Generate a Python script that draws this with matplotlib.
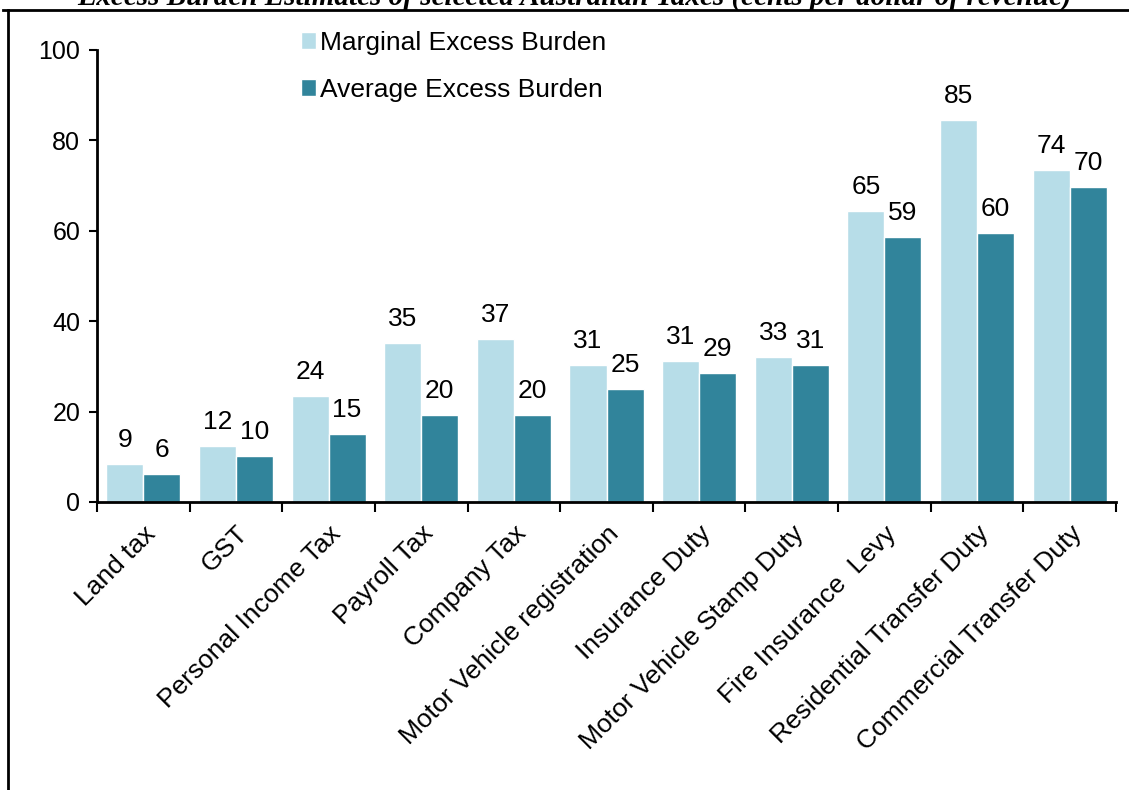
import matplotlib
matplotlib.use("Agg")
import matplotlib.pyplot as plt
from matplotlib.lines import Line2D
import numpy as np

plt.rcParams['font.family'] = ['Liberation Sans', 'DejaVu Sans']

categories = ["Land tax", "GST", "Personal Income Tax", "Payroll Tax", "Company Tax",
              "Motor Vehicle registration", "Insurance Duty", "Motor Vehicle Stamp Duty",
              "Fire Insurance  Levy", "Residential Transfer Duty", "Commercial Transfer Duty"]
marginal = [8.4, 12.4, 23.5, 35.2, 36.1, 30.3, 31.2, 32.1, 64.4, 84.5, 73.5]
average = [6.2, 10.2, 15.0, 19.3, 19.3, 25.0, 28.5, 30.3, 58.6, 59.5, 69.7]
marginal_labels = ["9", "12", "24", "35", "37", "31", "31", "33", "65", "85", "74"]
average_labels = ["6", "10", "15", "20", "20", "25", "29", "31", "59", "60", "70"]
yticks = [0, 20, 40, 60, 80, 100]

W, H = 1129, 790
fig = plt.figure(figsize=(W/100, H/100), dpi=100)
ax = fig.add_axes([97/W, 1-502/H, (1116-97)/W, (502-50)/H])

x = np.arange(len(categories))
bw = 0.4
c_light = "#b7dde8"
c_dark = "#31849b"
b1 = ax.bar(x - bw/2, marginal, bw, color=c_light, edgecolor="white", linewidth=1, label="Marginal Excess Burden")
b2 = ax.bar(x + bw/2, average, bw, color=c_dark, edgecolor="white", linewidth=1, label="Average Excess Burden")

for bars, labs in ((b1, marginal_labels), (b2, average_labels)):
    for r, lab in zip(bars, labs):
        ax.annotate(lab, (r.get_x() + r.get_width()/2, r.get_height()),
                    xytext=(0, 12), textcoords="offset pixels",
                    ha="center", va="bottom", fontsize=19)

ax.set_xlim(-0.5, len(categories) - 0.5)
ax.set_ylim(0, 100)
ax.set_yticks(yticks)
ax.set_yticklabels([str(v) for v in yticks], fontsize=18)
ax.set_xticks(x)
ax.set_xticklabels(categories, rotation=45, ha="right", rotation_mode="anchor", fontsize=19)
ax.tick_params(axis="x", which="major", length=0, pad=14)
ax.set_xticks(np.arange(-0.5, len(categories)), minor=True)
ax.tick_params(axis="x", which="minor", length=7, width=1.5, direction="out")
ax.tick_params(axis="y", length=6, width=1.5, direction="out", pad=6)

for s in ("top", "right"):
    ax.spines[s].set_visible(False)
for s in ("left", "bottom"):
    ax.spines[s].set_linewidth(2)

ax.legend(loc="upper left", bbox_to_anchor=((290-97)/1019, 1.065), frameon=False,
          fontsize=19, handlelength=0.6, handleheight=0.6, handletextpad=0.15,
          labelspacing=0.85, borderaxespad=0)

fig.text(575/W, 1 - 5/H, "Excess Burden Estimates of selected Australian Taxes (cents per dollar of revenue)",
         ha="center", va="baseline", fontsize=21, family="Liberation Serif",
         fontweight="bold", fontstyle="italic")

fig.add_artist(Line2D([8/W, 8/W], [0, 1-10/H], color="black", lw=2, transform=fig.transFigure))
fig.add_artist(Line2D([3/W, 1], [1-10/H, 1-10/H], color="black", lw=2, transform=fig.transFigure))

fig.savefig("out.png", dpi=100)
